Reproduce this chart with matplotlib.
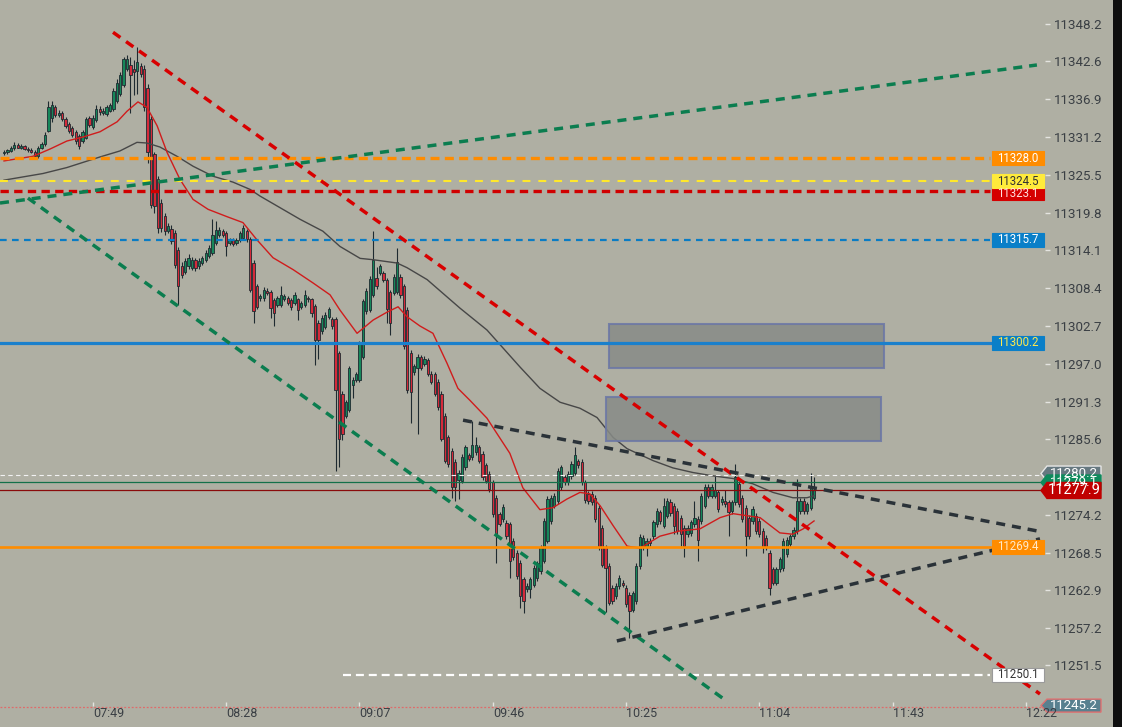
import numpy as np
import matplotlib
matplotlib.use("Agg")
import matplotlib.pyplot as plt
from matplotlib.patches import Rectangle, Polygon
import matplotlib.transforms as mtransforms

plt.rcParams['font.family'] = ['Roboto', 'DejaVu Sans']

# ---------------- data (1-minute candles) ----------------
opens = [
 11328.8, 11329.0, 11329.1, 11329.6, 11330.0, 11329.6, 11329.8, 11329.4, 11329.2, 11329.0,
 11328.3, 11329.6, 11330.1, 11332.1, 11334.0, 11335.8, 11334.6, 11334.9, 11333.9, 11333.2,
 11332.5, 11332.0, 11331.4, 11330.6, 11331.1, 11334.0, 11332.7, 11333.7, 11335.4, 11334.8,
 11334.7, 11335.2, 11335.4, 11336.6, 11337.7, 11339.1, 11341.5, 11342.0, 11341.5, 11341.1,
 11341.9, 11341.5, 11338.6, 11333.9, 11328.6, 11324.9, 11321.3, 11319.3, 11317.0, 11317.4,
 11316.8, 11314.2, 11311.7, 11310.9, 11311.7, 11311.5, 11312.7, 11311.7, 11312.2, 11312.7,
 11313.2, 11313.7, 11315.2, 11316.5, 11317.0, 11316.7, 11315.2, 11315.6, 11315.2, 11315.7,
 11316.0, 11317.0, 11315.8, 11312.2, 11308.7, 11306.9, 11306.9, 11308.0, 11307.8, 11306.6,
 11305.9, 11305.9, 11306.8, 11306.9, 11306.6, 11306.1, 11306.7, 11305.6, 11305.9, 11306.9,
 11306.7, 11305.7, 11303.2, 11301.9, 11302.6, 11304.1, 11303.7, 11303.7, 11298.6, 11292.5,
 11289.2, 11290.0, 11293.8, 11294.5, 11294.5, 11298.1, 11304.9, 11305.1, 11307.4, 11309.9,
 11310.7, 11310.7, 11309.7, 11307.8, 11307.7, 11307.8, 11310.1, 11308.7, 11305.1, 11298.7,
 11295.7, 11296.3, 11298.0, 11297.0, 11297.5, 11295.5, 11295.4, 11294.3, 11292.5, 11289.2,
 11285.9, 11283.9, 11282.2, 11279.5, 11279.4, 11281.4, 11283.2, 11282.9, 11283.7, 11284.4,
 11283.4, 11281.7, 11280.4, 11279.1, 11276.8, 11274.3, 11273.6, 11273.0, 11272.8, 11270.3,
 11268.5, 11267.0, 11264.5, 11263.0, 11263.1, 11263.7, 11264.7, 11265.7, 11267.3, 11270.3,
 11273.3, 11275.6, 11276.3, 11278.4, 11279.9, 11279.1, 11280.1, 11280.6, 11282.3, 11282.2,
 11279.1, 11277.4, 11277.4, 11276.8, 11275.3, 11272.3, 11269.3, 11266.5, 11263.2, 11262.0,
 11263.5, 11264.0, 11263.2, 11262.2, 11259.9, 11261.2, 11266.5, 11269.3, 11269.4, 11270.3,
 11271.0, 11272.8, 11274.6, 11272.6, 11274.1, 11276.2, 11275.6, 11274.8, 11273.8, 11272.3,
 11271.3, 11271.5, 11272.8, 11273.6, 11273.3, 11275.6, 11278.4, 11277.1, 11277.1, 11277.6,
 11276.1, 11276.3, 11276.1, 11274.8, 11276.1, 11278.9, 11276.8, 11275.3, 11273.8, 11273.3,
 11274.1, 11273.3, 11271.8, 11270.8, 11268.5, 11266.0, 11264.0, 11266.0, 11266.2, 11268.3,
 11269.8, 11271.0, 11271.8, 11274.8, 11276.3, 11274.8, 11275.3, 11276.8]
highs = [
 11329.3, 11329.4, 11329.9, 11330.4, 11330.3, 11330.1, 11330.0, 11329.7, 11329.5, 11329.3,
 11329.8, 11330.4, 11331.9, 11336.7, 11336.6, 11336.1, 11335.3, 11335.1, 11334.2, 11333.5,
 11332.8, 11332.3, 11331.6, 11332.2, 11334.2, 11334.3, 11334.5, 11336.0, 11335.9, 11335.6,
 11336.1, 11336.4, 11338.6, 11339.9, 11341.0, 11343.3, 11343.6, 11343.3, 11342.8, 11344.8,
 11342.4, 11342.0, 11339.2, 11334.3, 11329.0, 11325.3, 11321.8, 11319.7, 11318.3, 11317.9,
 11317.2, 11314.6, 11312.3, 11313.0, 11313.5, 11313.1, 11313.0, 11312.9, 11313.3, 11314.1,
 11314.9, 11318.8, 11318.5, 11317.6, 11317.4, 11317.0, 11316.0, 11315.9, 11316.0, 11317.0,
 11318.0, 11317.4, 11316.2, 11312.6, 11309.1, 11307.6, 11308.6, 11308.4, 11308.1, 11306.9,
 11307.3, 11308.7, 11307.6, 11307.2, 11306.9, 11307.9, 11307.0, 11306.4, 11308.2, 11307.2,
 11307.0, 11306.0, 11303.6, 11304.3, 11304.8, 11305.6, 11304.1, 11304.0, 11299.0, 11292.9,
 11291.6, 11296.7, 11295.0, 11295.8, 11300.5, 11306.8, 11308.4, 11310.2, 11317.0, 11311.6,
 11312.1, 11311.0, 11310.0, 11308.2, 11310.5, 11314.5, 11310.5, 11309.1, 11305.5, 11299.1,
 11297.0, 11298.5, 11298.4, 11298.2, 11297.9, 11295.9, 11295.8, 11294.7, 11292.9, 11289.6,
 11286.3, 11284.3, 11282.6, 11281.0, 11283.4, 11284.8, 11283.6, 11288.4, 11286.0, 11284.8,
 11283.8, 11282.1, 11280.8, 11279.5, 11277.2, 11274.7, 11275.8, 11273.4, 11273.2, 11270.7,
 11268.9, 11267.4, 11264.9, 11263.9, 11264.9, 11266.6, 11267.3, 11269.7, 11273.7, 11277.0,
 11277.2, 11277.5, 11281.3, 11281.8, 11280.3, 11280.8, 11282.3, 11284.4, 11282.7, 11282.6,
 11279.5, 11277.8, 11277.8, 11277.2, 11275.7, 11272.7, 11269.7, 11266.9, 11263.6, 11263.9,
 11265.1, 11264.4, 11263.6, 11262.6, 11262.8, 11266.9, 11271.3, 11271.2, 11270.7, 11270.7,
 11273.5, 11275.2, 11275.0, 11276.8, 11276.7, 11276.6, 11276.0, 11275.2, 11274.2, 11272.7,
 11272.7, 11273.5, 11276.3, 11274.0, 11277.5, 11278.9, 11278.8, 11278.8, 11280.1, 11278.0,
 11277.0, 11277.9, 11276.5, 11276.5, 11281.9, 11279.3, 11277.2, 11275.7, 11274.2, 11275.5,
 11274.5, 11273.7, 11272.2, 11271.2, 11268.9, 11266.4, 11266.4, 11267.9, 11270.7, 11270.9,
 11271.4, 11272.4, 11279.6, 11276.7, 11276.7, 11276.2, 11280.6, 11279.9]
lows = [
 11328.5, 11328.7, 11328.9, 11329.3, 11329.5, 11329.4, 11329.2, 11328.9, 11328.8, 11328.0,
 11328.1, 11329.4, 11329.9, 11332.0, 11333.5, 11334.2, 11334.2, 11333.6, 11332.6, 11331.8,
 11331.2, 11330.1, 11329.4, 11330.3, 11330.9, 11332.7, 11332.4, 11333.4, 11334.6, 11334.5,
 11334.4, 11335.0, 11335.1, 11336.3, 11337.4, 11338.8, 11341.2, 11334.9, 11337.5, 11337.7,
 11340.3, 11335.2, 11327.3, 11320.5, 11319.8, 11316.8, 11316.9, 11316.4, 11316.7, 11315.1,
 11311.5, 11305.9, 11309.9, 11310.5, 11311.3, 11311.2, 11311.0, 11311.3, 11311.9, 11312.4,
 11312.9, 11313.4, 11314.9, 11316.2, 11316.2, 11313.2, 11314.9, 11314.7, 11314.9, 11315.4,
 11315.7, 11315.4, 11307.8, 11303.1, 11305.2, 11306.4, 11306.5, 11307.4, 11303.9, 11302.7,
 11305.5, 11305.6, 11306.5, 11305.8, 11305.1, 11305.8, 11303.6, 11305.3, 11305.6, 11306.3,
 11304.0, 11296.8, 11297.8, 11301.5, 11302.3, 11303.8, 11302.3, 11280.9, 11281.4, 11285.5,
 11288.8, 11289.7, 11291.8, 11294.2, 11294.2, 11297.8, 11304.5, 11304.8, 11307.1, 11308.3,
 11310.4, 11309.3, 11303.1, 11301.4, 11307.4, 11307.5, 11307.0, 11299.3, 11292.6, 11288.0,
 11295.3, 11286.4, 11296.0, 11296.6, 11295.1, 11293.9, 11292.1, 11290.1, 11285.3, 11282.0,
 11281.5, 11276.8, 11276.3, 11276.6, 11279.0, 11281.0, 11282.3, 11282.5, 11283.3, 11282.0,
 11279.5, 11279.0, 11277.7, 11273.9, 11267.0, 11272.5, 11273.2, 11270.6, 11264.7, 11267.4,
 11264.6, 11260.2, 11259.4, 11262.6, 11261.7, 11263.3, 11264.3, 11265.3, 11266.9, 11269.9,
 11272.9, 11275.2, 11275.9, 11278.0, 11278.7, 11278.7, 11279.7, 11280.2, 11281.3, 11278.7,
 11276.0, 11275.9, 11275.7, 11273.2, 11268.9, 11266.3, 11259.5, 11260.6, 11260.8, 11261.6,
 11263.1, 11263.3, 11260.3, 11255.6, 11259.5, 11260.8, 11266.1, 11268.9, 11268.0, 11269.5,
 11270.6, 11272.4, 11272.9, 11272.2, 11273.7, 11274.1, 11271.3, 11271.4, 11269.5, 11267.8,
 11270.9, 11271.1, 11272.4, 11267.2, 11272.9, 11275.2, 11276.7, 11276.7, 11276.7, 11274.7,
 11275.7, 11275.4, 11271.0, 11274.4, 11275.7, 11275.4, 11273.2, 11268.0, 11270.6, 11272.9,
 11271.4, 11270.9, 11268.5, 11268.9, 11262.2, 11263.6, 11263.6, 11265.6, 11265.8, 11267.9,
 11269.4, 11270.6, 11271.4, 11274.4, 11274.4, 11274.4, 11274.9, 11276.4]
closes = [
 11329.0, 11329.1, 11329.6, 11330.0, 11329.6, 11329.8, 11329.4, 11329.2, 11329.0, 11328.3,
 11329.6, 11330.1, 11331.5, 11335.8, 11336.0, 11334.6, 11334.8, 11333.9, 11332.9, 11332.1,
 11331.5, 11330.6, 11329.9, 11331.9, 11333.9, 11333.0, 11334.0, 11335.4, 11335.0, 11335.1,
 11335.7, 11336.0, 11338.2, 11339.4, 11340.5, 11342.9, 11343.0, 11340.6, 11341.0, 11342.5,
 11340.7, 11335.7, 11328.9, 11321.0, 11320.8, 11317.5, 11317.5, 11317.0, 11317.8, 11315.5,
 11311.9, 11308.7, 11310.4, 11312.5, 11313.0, 11312.7, 11311.5, 11312.5, 11312.9, 11313.7,
 11314.5, 11316.5, 11317.2, 11317.2, 11316.5, 11314.7, 11315.7, 11315.0, 11315.7, 11316.7,
 11317.5, 11315.8, 11308.2, 11304.9, 11305.6, 11307.3, 11308.2, 11307.7, 11305.4, 11304.6,
 11306.9, 11307.4, 11307.3, 11306.1, 11305.6, 11307.4, 11305.1, 11306.1, 11307.4, 11306.7,
 11304.6, 11300.6, 11300.6, 11303.9, 11304.4, 11305.2, 11302.7, 11293.0, 11285.7, 11286.4,
 11291.2, 11296.3, 11294.6, 11295.4, 11300.1, 11306.4, 11308.0, 11309.8, 11312.6, 11308.7,
 11311.7, 11309.7, 11305.2, 11303.1, 11310.1, 11312.3, 11307.4, 11299.7, 11293.0, 11292.8,
 11296.6, 11298.1, 11296.4, 11297.8, 11295.5, 11294.3, 11292.5, 11290.5, 11285.7, 11282.4,
 11281.9, 11278.4, 11278.4, 11280.6, 11283.0, 11284.4, 11282.7, 11284.7, 11284.8, 11282.4,
 11279.9, 11279.4, 11278.1, 11274.3, 11271.3, 11272.9, 11275.4, 11271.0, 11267.3, 11267.8,
 11265.0, 11262.0, 11261.2, 11263.5, 11264.5, 11266.2, 11266.9, 11269.3, 11273.3, 11276.6,
 11276.8, 11277.1, 11280.9, 11281.4, 11279.1, 11280.4, 11281.9, 11283.2, 11281.7, 11279.1,
 11276.4, 11276.3, 11276.1, 11273.6, 11269.3, 11266.7, 11266.2, 11261.0, 11261.2, 11263.5,
 11264.7, 11263.7, 11260.7, 11259.7, 11262.4, 11266.5, 11270.9, 11270.8, 11270.3, 11269.9,
 11273.1, 11274.8, 11273.3, 11275.6, 11276.3, 11274.5, 11272.6, 11271.8, 11271.3, 11269.5,
 11272.3, 11273.1, 11273.8, 11270.5, 11277.1, 11278.4, 11277.1, 11278.4, 11277.9, 11275.1,
 11276.6, 11275.8, 11274.6, 11276.1, 11279.9, 11275.8, 11273.6, 11271.0, 11271.0, 11275.1,
 11271.8, 11271.3, 11269.3, 11269.3, 11263.2, 11264.0, 11266.0, 11267.5, 11270.3, 11270.5,
 11271.0, 11272.0, 11276.3, 11276.3, 11274.8, 11275.8, 11278.4, 11277.9]

# moving averages (candle index, price)
fast_ma_idx = [0, 8.5, 13.5, 18.4, 23.1, 28.1, 33.1, 36.0, 39.2, 41.8, 44.8, 47.7, 51.5, 55.3,
               59.7, 65.2, 69.9, 74.0, 78.7, 84.6, 90.4, 95.4, 98.3, 103.3, 108.0, 112.1, 115.3,
               117.9, 121.7, 125.5, 129.6, 132.8, 136.3, 141.3, 144.2, 148.0, 151.8, 156.8, 160.6,
               164.7, 168.5, 171.4, 174.4, 178.2, 182.3, 186.1, 191.9, 197.8, 203.6, 209.5, 213.3,
               221.2, 227.0, 230.8, 233.8, 237.0]
fast_ma_val = [11327.6, 11328.3, 11329.4, 11330.6, 11331.2, 11332.0, 11333.5, 11335.1, 11336.5,
               11335.7, 11332.9, 11328.9, 11324.8, 11321.8, 11320.3, 11319.2, 11318.3, 11315.7,
               11313.0, 11311.2, 11309.2, 11307.4, 11305.1, 11301.6, 11303.6, 11304.8, 11305.6,
               11304.1, 11302.7, 11301.6, 11297.1, 11293.3, 11291.5, 11288.8, 11286.5, 11283.5,
               11278.3, 11275.0, 11275.3, 11276.6, 11277.6, 11277.4, 11275.6, 11272.6, 11269.5,
               11269.2, 11271.0, 11271.8, 11272.1, 11273.8, 11274.4, 11273.8, 11271.5, 11271.3,
               11272.1, 11273.3]
slow_ma_idx = [0, 11.4, 18.4, 28.1, 33.9, 38.9, 41.8, 45.6, 50.6, 55.3, 61.1, 67.0, 72.0, 74.9,
               86.6, 93.3, 98.3, 104.2, 108.0, 115.0, 117.9, 123.8, 129.6, 133.4, 141.3, 151.0,
               156.8, 162.7, 168.5, 173.5, 178.2, 182.3, 186.1, 189.9, 195.7, 201.6, 207.4, 213.3,
               219.1, 225.0, 230.8, 234.9, 237.0]
slow_ma_val = [11324.7, 11325.7, 11326.6, 11328.2, 11329.1, 11330.4, 11330.3, 11329.7, 11328.3,
               11326.8, 11325.3, 11324.4, 11323.3, 11322.3, 11318.8, 11317.0, 11314.7, 11312.9,
               11312.7, 11312.2, 11311.5, 11309.7, 11307.1, 11305.4, 11302.1, 11296.5, 11293.3,
               11291.2, 11290.3, 11288.9, 11285.9, 11284.2, 11283.3, 11282.4, 11281.3, 11280.6,
               11280.1, 11279.7, 11278.9, 11277.6, 11276.8, 11276.8, 11277.1]

# trend lines (start/end candle index and price)
red_trend_idx, red_trend_px = [31.9, 303.1], [11347.0, 11247.2]
green_up_idx, green_up_px = [-1.17, 302.2], [11321.25, 11342.07]
green_dn_idx, green_dn_px = [7.0, 211.8], [11322.0, 11246.0]
black_up_idx, black_up_px = [134.3, 302.2], [11288.5, 11271.8]
black_lo_idx, black_lo_px = [179.3, 303.1], [11255.2, 11270.6]

# horizontal levels
level_orange_dash = 11328.0
level_yellow = 11324.5
level_red = 11323.1
level_blue_dash = 11315.7
level_blue_solid = 11300.2
level_orange_solid = 11269.4
level_white = 11250.1
white_level_idx = [99.2, 288.5]
price_hi = 11280.2
price_ask = 11279.1
price_last = 11277.9
price_low = 11245.2

# zones (candle index range, price range)
zone1_idx, zone1_px = [177.0, 257.5], [11296.4, 11303.0]
zone2_idx, zone2_px = [176.1, 256.6], [11285.4, 11292.0]

time_tick_idx = [26, 65, 104, 143, 182, 221, 260, 299]
time_labels = ['07:49', '08:28', '09:07', '09:46', '10:25', '11:04', '11:43', '12:22']
price_ticks = [11348.2, 11342.6, 11336.9, 11331.2, 11325.5, 11319.8, 11314.1, 11308.4,
               11302.7, 11297.0, 11291.3, 11285.6, 11279.9, 11274.2, 11268.5, 11262.9,
               11257.2, 11251.5, 11245.8]

# ---------------- figure ----------------
W, H = 1122, 727
BG = '#afafa3'
EDGE = '#1e2a30'
GREEN = '#16875a'
RED = '#d52a3a'
PXY = 6.63     # pixels per price unit
AXW = 1045.0   # axes width in px

fig = plt.figure(figsize=(W / 100, H / 100), dpi=100)
fig.patch.set_facecolor(BG)
ax = fig.add_axes([0, 21 / H, AXW / W, 706 / H])
ax.set_facecolor(BG)
ax.set_xlim(-1.17, 304.57)
ax.set_ylim(11245.39, 11351.87)
for s in ax.spines.values():
    s.set_visible(False)

# candles
idx = np.arange(len(closes))
o = np.array(opens); c = np.array(closes)
up = c >= o
ax.vlines(idx, lows, highs, color=EDGE, lw=0.8, zorder=2)
ax.bar(idx, np.maximum(np.abs(c - o), 0.18), bottom=np.minimum(o, c), width=0.66,
       color=np.where(up, GREEN, RED), edgecolor=EDGE, linewidth=0.6, zorder=3)

# moving averages
ax.plot(slow_ma_idx, slow_ma_val, color='#474747', lw=1.0, zorder=4)
ax.plot(fast_ma_idx, fast_ma_val, color='#d01c1c', lw=1.0, zorder=4)

# zones
for zi, zp in [(zone1_idx, zone1_px), (zone2_idx, zone2_px)]:
    ax.add_patch(Rectangle((zi[0], zp[0]), zi[1] - zi[0], zp[1] - zp[0],
                           facecolor='#878b87', alpha=0.85, edgecolor='#6b77a6',
                           lw=1.5, zorder=5))

x_box_left = 288.5
# horizontal levels
ax.plot([-1.2, x_box_left], [level_orange_dash] * 2, color='#ff8c00', lw=2.4,
        ls=(0, (2.7, 1.6)), zorder=6)
ax.plot([-1.2, x_box_left], [level_yellow] * 2, color='#ffe82a', lw=1.5,
        ls=(0, (3.8, 3.8)), zorder=6)
ax.plot([-1.2, x_box_left], [level_red] * 2, color='#d00000', lw=2.4,
        ls=(0, (2.5, 1.6)), zorder=6)
ax.plot([-1.2, x_box_left], [level_blue_dash] * 2, color='#0a7cc4', lw=1.6,
        ls=(0, (3.0, 2.4)), zorder=6)
ax.plot([-1.2, x_box_left], [level_blue_solid] * 2, color='#1a80cc', lw=2.3, zorder=6)
ax.plot([-1.2, x_box_left], [level_orange_solid] * 2, color='#ff8c00', lw=1.9, zorder=6)
ax.plot(white_level_idx, [level_white] * 2, color='white', lw=1.6,
        ls=(0, (3.6, 2.2)), zorder=6)
ax.plot([-1.2, 304.6], [price_hi] * 2, color='#f2f2f2', lw=0.8, ls=(0, (4, 3)), zorder=6)
ax.plot([-1.2, 304.6], [price_ask] * 2, color='#14704a', lw=0.9, zorder=6)
ax.plot([-1.2, 304.6], [price_last] * 2, color='#8a0b0b', lw=0.9, zorder=6)
ax.plot([-1.2, 304.6], [price_low] * 2, color='#e06a6a', lw=0.9, ls=(0, (1.5, 1.5)),
        zorder=6, clip_on=False)

# trend lines
tl_style = dict(lw=2.5, ls=(0, (2.6, 2.0)), solid_capstyle='butt', zorder=7)
ax.plot(red_trend_idx, red_trend_px, color='#d80000', **tl_style)
ax.plot(green_up_idx, green_up_px, color='#0b7d4f', **tl_style)
ax.plot(green_dn_idx, green_dn_px, color='#0b7d4f', **tl_style)
ax.plot(black_up_idx, black_up_px, color='#2a3238', **tl_style)
ax.plot(black_lo_idx, black_lo_px, color='#2a3238', **tl_style)

# level label boxes
btr = mtransforms.blended_transform_factory(ax.transAxes, ax.transData)
bh = 14 / PXY
def level_box(p, fill, tcol, edge=None, dy=0.0):
    pc = p + dy
    ax.add_patch(Rectangle((992 / AXW, pc - bh / 2), 52 / AXW, bh, transform=btr,
                           facecolor=fill, edgecolor=edge if edge else fill, lw=0.8,
                           zorder=10, clip_on=False))
    ax.text(1018 / AXW, pc, f"{p:.1f}", transform=btr, ha='center', va='center',
            fontsize=8.3, color=tcol, zorder=11, clip_on=False)

level_box(level_orange_dash, '#ff8c00', 'white')
level_box(level_red, '#d50000', '#ffe0e0', dy=-0.35)
level_box(level_yellow, '#ffeb3b', '#333333')
level_box(level_blue_dash, '#0a7fc8', 'white')
level_box(level_blue_solid, '#0a7fc8', '#ffe94d')
level_box(level_orange_solid, '#ff8c00', '#ffe8c8')
level_box(level_white, 'white', '#333333', edge='#9a9a9a')

# price tags over the axis
def tag(p, fill, tcol, h_px, fs, edge=None, yc=None):
    yc = p if yc is None else yc
    h = h_px / PXY
    pts = [(1041 / AXW, yc), (1047 / AXW, yc + h / 2), (1101 / AXW, yc + h / 2),
           (1101 / AXW, yc - h / 2), (1047 / AXW, yc - h / 2)]
    ax.add_patch(Polygon(pts, closed=True, transform=btr, facecolor=fill,
                         edgecolor=edge if edge else fill, lw=1.0, zorder=12, clip_on=False))
    ax.text(1074 / AXW, yc, f"{p:.1f}", transform=btr, ha='center', va='center',
            fontsize=fs, color=tcol, zorder=13, clip_on=False)

tag(price_hi, '#667880', 'white', 15, 9.5, edge='#e6e6e6', yc=price_hi + 0.25)
tag(price_ask, '#0e8a5c', 'white', 15, 9.5)
tag(price_last, '#c00000', 'white', 16, 10.5)
tag(price_low, '#58808f', 'white', 13, 9.5, edge='#e07070', yc=price_low + 0.25)

# axes ticks
ax.yaxis.tick_right()
ax.set_yticks(price_ticks)
ax.set_yticklabels([f"{v:.1f}" for v in price_ticks])
ax.tick_params(axis='y', direction='out', length=3.6, width=1.0, color='#e4e4e0',
               pad=2.8, labelsize=9.6, labelcolor='#3a3f44')
ax.set_xticks(time_tick_idx)
ax.set_xticklabels([''] * len(time_tick_idx))
ax.tick_params(axis='x', direction='in', length=3, width=1.0, color='#e4e4e0', pad=0)
xtr = mtransforms.blended_transform_factory(ax.transData, ax.transAxes)
for ti, tl in zip(time_tick_idx, time_labels):
    ax.annotate(tl, (ti, 0), xycoords=xtr, xytext=(0, -0.5), textcoords='offset points',
                ha='left', va='top', fontsize=9, color='#3a3f44', zorder=14,
                annotation_clip=False)

# right window edge
fig.add_artist(Rectangle((1113 / W, 0), 9 / W, 1, transform=fig.transFigure,
                         facecolor='#0e0e0e', edgecolor='none'))

fig.savefig('out.png', dpi=100, facecolor=BG)
